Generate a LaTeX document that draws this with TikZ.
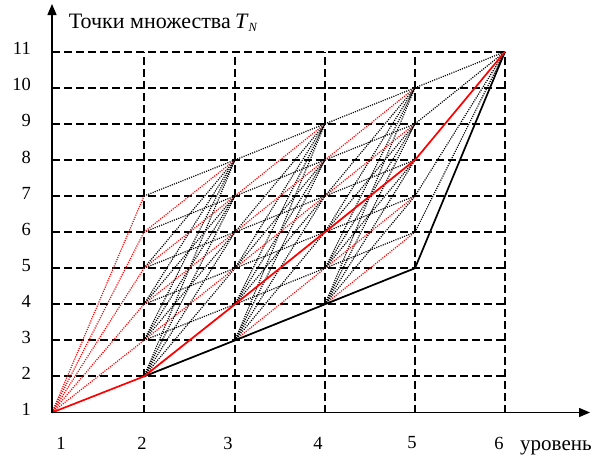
\documentclass[tikz,border=0pt]{standalone}
\usepackage{fontspec}
\setmainfont{Liberation Serif}
\usetikzlibrary{arrows.meta}
\begin{document}
\begin{tikzpicture}[x=1pt,y=-1pt,
  gridline/.style={black, line width=2.1pt, dash pattern=on 7.5pt off 4.5pt},
  rdot/.style={red, line width=1.2pt, dash pattern=on 1.1pt off 1.2pt},
  bdot/.style={black, line width=1.2pt, dash pattern=on 1.1pt off 1.2pt},
  rsolid/.style={red, line width=1.7pt},
  bsolid/.style={black, line width=1.7pt},
  axisline/.style={black, line width=1.3pt, -{Triangle[length=11pt,width=9pt]}},
  lab/.style={font=\fontsize{18.5}{18.5}\selectfont, inner sep=0pt},
  ttl/.style={font=\fontsize{22}{22}\selectfont, inner sep=0pt}]
\useasboundingbox (0,0) rectangle (593,455);
\fill[white] (0,0) rectangle (593,455);
% grid points
\foreach \k/\x in {1/52,2/144,3/235,4/325,5/415,6/505}{
  \foreach \v in {1,...,11}{
    \coordinate (p\k-\v) at (\x,{412.5-36.08*(\v-1)});
  }
}
\coordinate (ytop) at (52,4);
\coordinate (xend) at (590,412.5);
% dashed grid
\foreach \v in {2,...,11}{ \draw[gridline] (p1-\v) -- (p6-\v); }
\foreach \k in {2,...,6}{ \draw[gridline] (p\k-1) -- (p\k-11); }
% level 1 -> 2
\foreach \b in {3,...,7}{ \draw[rdot] (p1-1) -- (p2-\b); }
% levels 2..4 -> next
\foreach \k in {2,3,4}{
  \pgfmathtruncatemacro{\kn}{\k+1}
  \pgfmathtruncatemacro{\amax}{\k+5}
  \pgfmathtruncatemacro{\bmax}{\k+6}
  \foreach \a in {\k,...,\amax}{
    \pgfmathtruncatemacro{\bmin}{\a+1}
    \foreach \b in {\bmin,...,\bmax}{
      \pgfmathtruncatemacro{\dd}{\b-\a}
      \ifnum\dd=2
        \draw[rdot] (p\k-\a) -- (p\kn-\b);
      \else
        \draw[bdot] (p\k-\a) -- (p\kn-\b);
      \fi
    }
  }
}
% level 5 -> 6
\foreach \a in {6,7,9,10}{ \draw[bdot] (p5-\a) -- (p6-11); }
% solid paths
\draw[bsolid] (p2-2) -- (p3-3) -- (p4-4) -- (p5-5) -- (p6-11);
\draw[rsolid] (p1-1) -- (p2-2) -- (p3-4) -- (p4-6) -- (p5-8) -- (p6-11);
% axes
\draw[axisline] (p1-1) -- (ytop);
\draw[axisline] (p1-1) -- (xend);
% labels
\node[ttl, anchor=base east] (title) at (231,28) {Точки множества};
\node[ttl, anchor=base west] (tn) at (235,28) {\textit{T}\raisebox{-0.35ex}{\fontsize{12.5}{12.5}\selectfont\textit{N}}};
\foreach \v in {1,...,11}{
  \node[lab, anchor=east] (yl\v) at ([xshift=-21pt,yshift=3pt]p1-\v) {\v};
}
\foreach \k/\x in {1/61,2/142,3/228,4/318,5/412,6/499}{
  \node[lab] (xl\k) at (\x,443) {\k};
}
\node[lab, font=\fontsize{21}{21}\selectfont, anchor=base west] (lvl) at (520,450) {уровень};
\end{tikzpicture}
\end{document}
